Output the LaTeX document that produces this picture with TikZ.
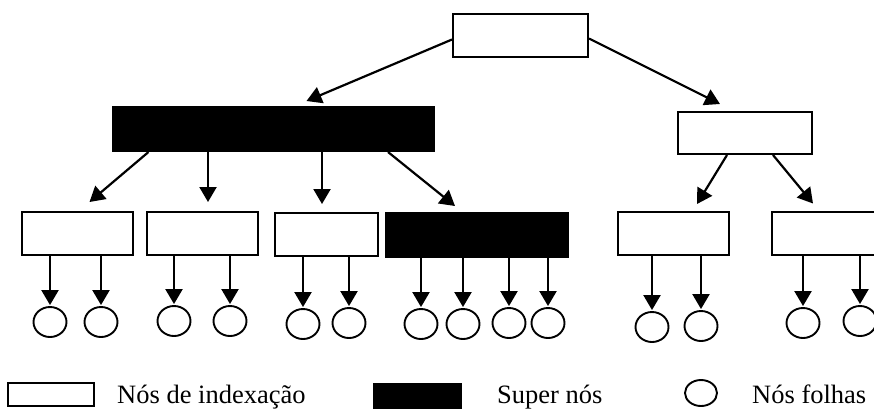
\documentclass[tikz,border=0pt]{standalone}
\usepackage{fontspec}
\setmainfont{Liberation Serif}
\usetikzlibrary{arrows.meta,shapes.geometric}
\tikzset{
  box/.style={draw, line width=2pt, rectangle, inner sep=0pt, fill=white},
  superbox/.style={draw, line width=2pt, rectangle, inner sep=0pt, fill=black},
  leaf/.style={draw, line width=1.9pt, ellipse, inner sep=0pt, minimum width=33pt, minimum height=30pt},
  arr/.style={line width=2.2pt, -{Triangle[length=15pt,width=17pt]}},
  legtext/.style={anchor=base west, inner sep=0pt, font=\fontsize{26.5}{30}\selectfont}
}
\begin{document}
\begin{tikzpicture}[x=1pt,y=-1pt]
\useasboundingbox (0,0) rectangle (874,408);
\clip (0,0) rectangle (874,408);
% upper levels
\node[box, minimum width=135pt, minimum height=43pt] (root) at (520.5,35.5) {};
\node[superbox, minimum width=321pt, minimum height=44pt] (S1) at (273.5,129) {};
\node[box, minimum width=134pt, minimum height=42pt] (R) at (745,133) {};
% second level
\node[box, minimum width=111pt, minimum height=43pt] (A) at (77.5,233.5) {};
\node[box, minimum width=111pt, minimum height=43pt] (B) at (202.5,233.5) {};
\node[box, minimum width=103pt, minimum height=43pt] (C) at (326.5,234.5) {};
\node[superbox, minimum width=182pt, minimum height=44pt] (D) at (477,235) {};
\node[box, minimum width=111pt, minimum height=43pt] (E) at (673.5,233.5) {};
\node[box, minimum width=112pt, minimum height=43pt] (F) at (828,233) {};
% leaves
\node[leaf] (a1) at (50,322) {};
\node[leaf] (a2) at (101,322) {};
\node[leaf] (b1) at (174,321) {};
\node[leaf] (b2) at (230,321) {};
\node[leaf] (c1) at (303,324) {};
\node[leaf] (c2) at (349,323) {};
\node[leaf] (d1) at (421,324) {};
\node[leaf] (d2) at (463,324) {};
\node[leaf] (d3) at (509,323) {};
\node[leaf] (d4) at (548,323) {};
\node[leaf] (e1) at (652,327) {};
\node[leaf] (e2) at (701,326) {};
\node[leaf] (f1) at (803,323) {};
\node[leaf] (f2) at (860,321) {};
% arrows upper
\draw[arr] ([yshift=-4pt]root.west) -- ([xshift=33pt,yshift=5pt]S1.north);
\draw[arr] ([yshift=-3pt]root.east) -- ([xshift=-25pt,yshift=7pt]R.north);
\draw[arr] ([xshift=-125pt]S1.south) -- ([xshift=12pt,yshift=9pt]A.north);
\draw[arr] ([xshift=-65.5pt]S1.south) -- ([xshift=5.5pt,yshift=9pt]B.north);
\draw[arr] ([xshift=48.5pt]S1.south) -- ([xshift=-4.5pt,yshift=8pt]C.north);
\draw[arr] ([xshift=114.5pt]S1.south) -- ([xshift=-22pt,yshift=6pt]D.north);
\draw[arr] ([xshift=-18pt]R.south) -- ([xshift=23.5pt,yshift=7pt]E.north);
\draw[arr] ([xshift=28pt]R.south) -- ([xshift=-15pt,yshift=7pt]F.north);
% leaf arrows
\foreach \p/\l in {A/a1,A/a2,B/b1,B/b2,C/c1,C/c2,D/d1,D/d2,D/d3,D/d4,E/e1,E/e2,F/f1,F/f2}{
  \draw[arr] (\l.north |- \p.south) -- ([yshift=1pt]\l.north);
}
% legend
\node[box, minimum width=86pt, minimum height=23pt] (lg1) at (51,394.5) {};
\node[legtext] (lt1) at (117,403) {Nós de indexação};
\node[superbox, minimum width=87pt, minimum height=24pt] (lg2) at (417.5,396) {};
\node[legtext] (lt2) at (497,403) {Super nós};
\node[leaf, minimum width=32pt, minimum height=26pt] (lg3) at (701,393) {};
\node[legtext] (lt3) at (752,403) {Nós folhas};
\end{tikzpicture}
\end{document}
